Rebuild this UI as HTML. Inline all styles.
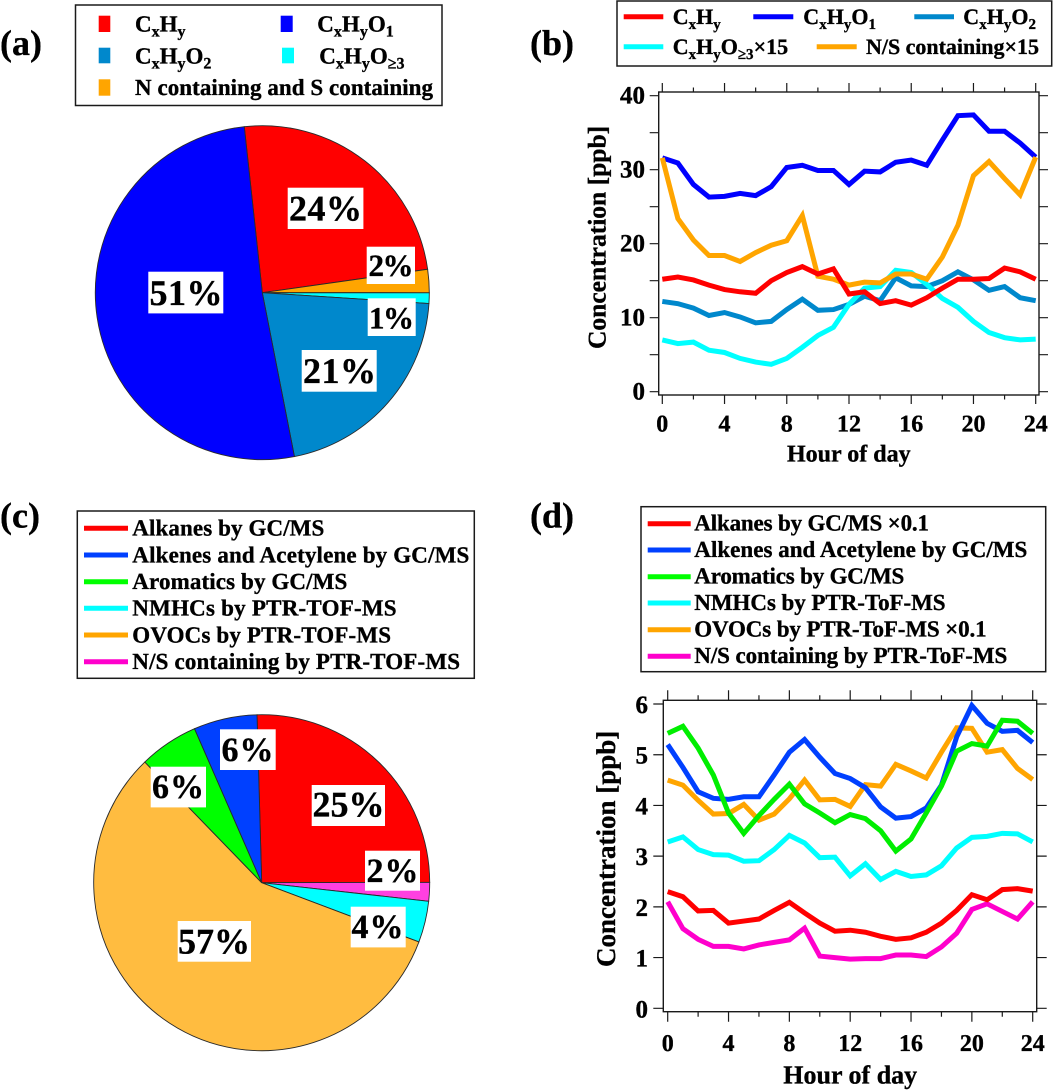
<!DOCTYPE html>
<html lang="en">
<head>
<meta charset="utf-8">
<title>VOC composition and diurnal profiles</title>
<style>
html,body{margin:0;padding:0;background:#fff;}
svg{display:block;filter:blur(0.35px);}
text{font-family:"Liberation Serif",serif;font-weight:bold;fill:#000;stroke:#000;stroke-width:0.35px;text-rendering:geometricPrecision;}
.leg{font-size:23px;}
.legb{font-size:22px;}
.sub{font-size:16px;}
.subb{font-size:15px;}
.panel{font-size:36px;}
.pct{font-size:36px;}
.pcts{font-size:34px;}
.box{fill:#fff;stroke:#1a1a1a;stroke-width:1.5;}
</style>
</head>
<body>
<svg id="fig" xmlns="http://www.w3.org/2000/svg" width="1061" height="1090" viewBox="0 0 1061 1090">
<rect width="1061" height="1090" fill="#fff"/>

<text class="panel" x="0" y="55">(a)</text>
<text class="panel" x="530" y="55">(b)</text>
<text class="panel" x="0" y="527.5">(c)</text>
<text class="panel" x="530" y="527.5">(d)</text>

<g id="pie-a"></g>
<g id="pie-c"></g>
<g id="chart-b"></g>
<g id="chart-d"></g>

<!-- Legend a -->
<g>
  <rect class="box" x="75.5" y="5" width="366.5" height="100.5"/>
  <rect x="98.7" y="15.7" width="11.6" height="16.3" fill="#ff0000"/>
  <text class="leg" x="135" y="31.7">C<tspan class="sub" dy="5">x</tspan><tspan dy="-5">H</tspan><tspan class="sub" dy="5">y</tspan></text>
  <rect x="280.7" y="15.7" width="12" height="16.3" fill="#0000ff"/>
  <text class="leg" x="317.3" y="31.7">C<tspan class="sub" dy="5">x</tspan><tspan dy="-5">H</tspan><tspan class="sub" dy="5">y</tspan><tspan dy="-5">O</tspan><tspan class="sub" dy="5">1</tspan></text>
  <rect x="98.7" y="47.7" width="11.6" height="15.6" fill="#0088cc"/>
  <text class="leg" x="135" y="63.3">C<tspan class="sub" dy="5">x</tspan><tspan dy="-5">H</tspan><tspan class="sub" dy="5">y</tspan><tspan dy="-5">O</tspan><tspan class="sub" dy="5">2</tspan></text>
  <rect x="282" y="47.7" width="12" height="15.6" fill="#00ffff"/>
  <text class="leg" x="319.3" y="63.3">C<tspan class="sub" dy="5">x</tspan><tspan dy="-5">H</tspan><tspan class="sub" dy="5">y</tspan><tspan dy="-5">O</tspan><tspan class="sub" dy="5">≥3</tspan></text>
  <rect x="98.7" y="79.3" width="11.6" height="16.4" fill="#ffa500"/>
  <text class="leg" x="135" y="95" textLength="298">N containing and S containing</text>
</g>

<!-- Legend b -->
<g>
  <rect class="box" x="617" y="1" width="434.7" height="65"/>
  <line x1="623.7" x2="663.3" y1="16.7" y2="16.7" stroke="#ff0000" stroke-width="5"/>
  <text class="legb" x="672.7" y="24">C<tspan class="subb" dy="5">x</tspan><tspan dy="-5">H</tspan><tspan class="subb" dy="5">y</tspan></text>
  <line x1="753.3" x2="793.3" y1="16.7" y2="16.7" stroke="#0000ff" stroke-width="5"/>
  <text class="legb" x="803.3" y="24">C<tspan class="subb" dy="5">x</tspan><tspan dy="-5">H</tspan><tspan class="subb" dy="5">y</tspan><tspan dy="-5">O</tspan><tspan class="subb" dy="5">1</tspan></text>
  <line x1="914.3" x2="954" y1="16.7" y2="16.7" stroke="#0088cc" stroke-width="5"/>
  <text class="legb" x="963.3" y="24">C<tspan class="subb" dy="5">x</tspan><tspan dy="-5">H</tspan><tspan class="subb" dy="5">y</tspan><tspan dy="-5">O</tspan><tspan class="subb" dy="5">2</tspan></text>
  <line x1="623.7" x2="663.3" y1="46.7" y2="46.7" stroke="#00ffff" stroke-width="5"/>
  <text class="legb" x="672.7" y="54">C<tspan class="subb" dy="5">x</tspan><tspan dy="-5">H</tspan><tspan class="subb" dy="5">y</tspan><tspan dy="-5">O</tspan><tspan class="subb" dy="5">≥3</tspan><tspan dy="-5">×15</tspan></text>
  <line x1="816.7" x2="856.7" y1="46.7" y2="46.7" stroke="#ffa500" stroke-width="5"/>
  <text class="legb" x="866" y="54" textLength="173">N/S containing×15</text>
</g>

<!-- Legend c -->
<g>
  <rect class="box" x="77.3" y="511" width="397" height="167.3"/>
  <line x1="84" x2="128" y1="528.3" y2="528.3" stroke="#ff0000" stroke-width="5"/>
  <text class="leg" x="132.3" y="535.7" textLength="192">Alkanes by GC/MS</text>
  <line x1="84" x2="128" y1="555" y2="555" stroke="#0040ff" stroke-width="5"/>
  <text class="leg" x="132.3" y="562.3" textLength="337">Alkenes and Acetylene by GC/MS</text>
  <line x1="84" x2="128" y1="581.7" y2="581.7" stroke="#00ff00" stroke-width="5"/>
  <text class="leg" x="132.3" y="589" textLength="215">Aromatics by GC/MS</text>
  <line x1="84" x2="128" y1="608.3" y2="608.3" stroke="#00ffff" stroke-width="5"/>
  <text class="leg" x="132.3" y="615.7" textLength="264.3">NMHCs by PTR-TOF-MS</text>
  <line x1="84" x2="128" y1="635" y2="635" stroke="#ffa500" stroke-width="5"/>
  <text class="leg" x="132.3" y="642.3" textLength="258.7">OVOCs by PTR-TOF-MS</text>
  <line x1="84" x2="128" y1="661.7" y2="661.7" stroke="#ff00cc" stroke-width="5"/>
  <text class="leg" x="132.3" y="669" textLength="327.7">N/S containing by PTR-TOF-MS</text>
</g>

<!-- Legend d -->
<g>
  <rect class="box" x="641" y="506.7" width="404.7" height="165"/>
  <line x1="647.7" x2="690.7" y1="523.7" y2="523.7" stroke="#ff0000" stroke-width="5"/>
  <text class="leg" x="694.3" y="530.7" textLength="234.7">Alkanes by GC/MS ×0.1</text>
  <line x1="647.7" x2="690.7" y1="550" y2="550" stroke="#0040ff" stroke-width="5"/>
  <text class="leg" x="694.3" y="557.2" textLength="333">Alkenes and Acetylene by GC/MS</text>
  <line x1="647.7" x2="690.7" y1="576.7" y2="576.7" stroke="#00ff00" stroke-width="5"/>
  <text class="leg" x="694.3" y="583.7" textLength="210">Aromatics by GC/MS</text>
  <line x1="647.7" x2="690.7" y1="603" y2="603" stroke="#00ffff" stroke-width="5"/>
  <text class="leg" x="694.3" y="610.2" textLength="251.3">NMHCs by PTR-ToF-MS</text>
  <line x1="647.7" x2="690.7" y1="629.7" y2="629.7" stroke="#ffa500" stroke-width="5"/>
  <text class="leg" x="694.3" y="636.7" textLength="292.3">OVOCs by PTR-ToF-MS ×0.1</text>
  <line x1="647.7" x2="690.7" y1="656.3" y2="656.3" stroke="#ff00cc" stroke-width="5"/>
  <text class="leg" x="694.3" y="663.2" textLength="313">N/S containing by PTR-ToF-MS</text>
</g>

<!-- Axis titles -->
<text x="787" y="461.7" font-size="24">Hour of day</text>
<text transform="translate(605.5,349) rotate(-90)" font-size="25.5">Concentration [ppb]</text>
<text x="783.3" y="1083.3" font-size="26">Hour of day</text>
<text transform="translate(615,967) rotate(-90)" font-size="27">Concentration [ppb]</text>

<!-- Pie percent labels, drawn above the slices -->
<g>
  <rect x="287.7" y="187.7" width="75.7" height="41.3" fill="#fff"/>
  <text class="pct" x="289" y="220.5" textLength="73">24%</text>
  <rect x="366.7" y="246.7" width="48.3" height="37.3" fill="#fff"/>
  <text x="368.5" y="276" font-size="31" textLength="45">2%</text>
  <rect x="367.7" y="298.3" width="48" height="37.7" fill="#fff"/>
  <text x="369" y="328.3" font-size="31" textLength="45">1%</text>
  <rect x="301.7" y="350" width="75" height="41.7" fill="#fff"/>
  <text class="pct" x="303" y="383" textLength="73">21%</text>
  <rect x="148.3" y="271.7" width="75" height="41.7" fill="#fff"/>
  <text class="pct" x="149.5" y="305" textLength="73">51%</text>
</g>
<g>
  <rect x="311.7" y="785" width="73.3" height="41" fill="#fff"/>
  <text class="pct" x="312.5" y="816.7" textLength="72">25%</text>
  <rect x="365" y="850.7" width="55" height="40" fill="#fff"/>
  <text class="pcts" x="366.5" y="882" textLength="52">2%</text>
  <rect x="350.7" y="906.7" width="55" height="40.7" fill="#fff"/>
  <text class="pcts" x="351.5" y="938" textLength="52">4%</text>
  <rect x="177.7" y="921" width="73.3" height="40.7" fill="#fff"/>
  <text class="pct" x="178" y="953.3" textLength="72">57%</text>
  <rect x="150.7" y="766.7" width="55.3" height="40.7" fill="#fff"/>
  <text class="pcts" x="152" y="798" textLength="52">6%</text>
  <rect x="220" y="729.3" width="55.7" height="40.7" fill="#fff"/>
  <text class="pcts" x="221.5" y="761" textLength="52">6%</text>
</g>
</svg>

<script>
// ---- Panel (a) pie data (percent) ----
var pieANames = ['cxhy', 'nitrogen-sulfur', 'cxhyo3', 'cxhyo2', 'cxhyo1'];
var pieAValues = [24.5, 2.25, 1.03, 20.9, 51.4];
var pieAColors = ['#ff0000', '#ffa500', '#00ffff', '#0088cc', '#0000ff'];

// ---- Panel (c) pie data (percent) ----
var pieCNames = ['alkanes', 'nitrogen-sulfur', 'nmhcs', 'ovocs', 'aromatics', 'alkenes'];
var pieCValues = [25.4, 1.8, 3.97, 57, 5.7, 6.1];
var pieCColors = ['#ff0000', '#ff40e0', '#00ffff', '#ffbc40', '#00ff00', '#0040ff'];

// ---- Shared hour axis ----
var hours = [0,1,2,3,4,5,6,7,8,9,10,11,12,13,14,15,16,17,18,19,20,21,22,23,24];
var hourTicks = [0,2,4,6,8,10,12,14,16,18,20,22,24];
var hourTickLabels = [0,4,8,12,16,20,24];

// ---- Panel (b) series ----
var cxhyValues = [15.2,15.5,15.1,14.4,13.8,13.5,13.3,15,16.1,16.9,15.9,16.6,13.2,13.5,11.9,12.3,11.7,12.7,14,15.2,15.2,15.3,16.7,16.2,15.2];
var cxhyo1Values = [31.6,30.9,28,26.3,26.4,26.8,26.5,27.7,30.3,30.6,29.9,29.9,28,29.8,29.7,31,31.3,30.6,34,37.3,37.4,35.2,35.2,33.6,31.7];
var cxhyo2Values = [12.2,11.9,11.3,10.3,10.7,10.1,9.3,9.5,11.1,12.5,11,11.1,11.8,12.9,12.3,15.4,14.3,14.2,15,16.2,15.1,13.7,14.2,12.7,12.3];
var cxhyo3Values = [7,6.5,6.7,5.6,5.3,4.5,4,3.7,4.5,6,7.6,8.7,11.8,14,14.2,16.4,16.1,14.5,12.6,11.4,9.5,8,7.3,7,7.1];
var nsContainingValues = [31.6,23.4,20.5,18.4,18.4,17.6,18.8,19.8,20.4,23.8,15.6,15.2,14.4,14.8,14.7,15.9,15.9,15.2,18.2,22.5,29.2,31.1,28.8,26.6,31.7];
var chartBYTicks = [0,5,10,15,20,25,30,35,40];
var chartBYLabels = [0,10,20,30,40];

// ---- Panel (d) series ----
var alkanesValues = [2.3,2.2,1.92,1.93,1.68,1.72,1.76,1.93,2.09,1.88,1.68,1.52,1.54,1.5,1.42,1.36,1.39,1.5,1.68,1.93,2.24,2.14,2.34,2.36,2.31];
var alkenesValues = [5.2,4.75,4.27,4.14,4.12,4.17,4.17,4.6,5.05,5.3,4.95,4.63,4.53,4.35,3.97,3.75,3.78,3.95,4.4,5.35,5.97,5.62,5.46,5.48,5.24];
var aromaticsValues = [5.42,5.56,5.13,4.6,3.85,3.45,3.8,4.12,4.42,4.03,3.85,3.66,3.82,3.74,3.5,3.1,3.34,3.85,4.38,5.07,5.22,5.17,5.68,5.66,5.42];
var nmhcsValues = [3.28,3.38,3.13,3.03,3.02,2.9,2.91,3.13,3.41,3.26,2.97,2.98,2.61,2.85,2.54,2.7,2.6,2.63,2.81,3.16,3.37,3.39,3.45,3.44,3.28];
var ovocsValues = [4.5,4.4,4.1,3.83,3.84,4.02,3.71,3.83,4.13,4.5,4.11,4.12,3.98,4.41,4.38,4.81,4.68,4.54,5.05,5.53,5.52,5.05,5.1,4.73,4.51];
var nsPtrValues = [2.1,1.57,1.36,1.22,1.22,1.17,1.25,1.3,1.35,1.58,1.03,1,0.97,0.98,0.98,1.05,1.05,1.02,1.21,1.48,1.95,2.06,1.91,1.76,2.1];
var chartDYTicks = [0,1,2,3,4,5,6];
var chartDYLabels = [0,1,2,3,4,5,6];

var NS = 'http://www.w3.org/2000/svg';

function mk(tag, attrs, parent) {
  var el = document.createElementNS(NS, tag);
  for (var k in attrs) { el.setAttribute(k, attrs[k]); }
  parent.appendChild(el);
  return el;
}

function drawPie(parentId, prefix, names, values, colors, cx, cy, r, startDeg) {
  var parent = document.getElementById(parentId);
  var total = values.reduce(function (a, b) { return a + b; }, 0);
  var angle = startDeg;
  values.forEach(function (v, i) {
    var sweep = v / total * 360;
    var a0 = angle * Math.PI / 180;
    var a1 = (angle + sweep) * Math.PI / 180;
    var d = 'M' + cx + ' ' + cy +
      'L' + (cx + r * Math.sin(a0)) + ' ' + (cy - r * Math.cos(a0)) +
      'A' + r + ' ' + r + ' 0 ' + (sweep > 180 ? 1 : 0) + ' 1 ' +
      (cx + r * Math.sin(a1)) + ' ' + (cy - r * Math.cos(a1)) + 'Z';
    var p = mk('path', { d: d, fill: colors[i], stroke: '#2a2a2a', 'stroke-width': 0.9 }, parent);
    
    
    angle += sweep;
  });
}

function drawLineChart(cfg) {
  var g = document.getElementById(cfg.id);
  var xScale = function (h) { return cfg.x0 + (cfg.x24 - cfg.x0) * h / 24; };
  var yScale = function (v) { return cfg.yBottom + (cfg.yTop - cfg.yBottom) * (v - cfg.yMin) / (cfg.yMax - cfg.yMin); };

  var frame = mk('rect', { x: cfg.left, y: cfg.top, width: cfg.right - cfg.left, height: cfg.bottom - cfg.top, fill: '#fff', stroke: '#1a1a1a', 'stroke-width': 1.4 }, g);
  
  

  hourTicks.forEach(function (h) {
    var major = hourTickLabels.indexOf(h) >= 0;
    var len = major ? cfg.majorLen : cfg.minorLen;
    var x = xScale(h);
    var d = 'M' + x + ' ' + cfg.top + 'V' + (cfg.top - len) + 'M' + x + ' ' + cfg.bottom + 'V' + (cfg.bottom + len);
    var t = mk('path', { d: d, stroke: '#1a1a1a', 'stroke-width': 1.2, fill: 'none' }, g);
    
    
  });
  hourTickLabels.forEach(function (h) {
    var lab = mk('text', { x: xScale(h), y: cfg.xLabelY, 'text-anchor': 'middle', 'font-size': 24 }, g);
    lab.textContent = h;
    
    
  });
  cfg.yTicks.forEach(function (v) {
    var y = yScale(v);
    var d = 'M' + cfg.left + ' ' + y + 'H' + (cfg.left - cfg.yTickLen) + 'M' + cfg.right + ' ' + y + 'H' + (cfg.right + cfg.yTickLen);
    var t = mk('path', { d: d, stroke: '#1a1a1a', 'stroke-width': 1.2, fill: 'none' }, g);
    
    
  });
  cfg.yLabels.forEach(function (v) {
    var lab = mk('text', { x: cfg.yLabelX, y: yScale(v) + cfg.yLabelShift, 'text-anchor': 'end', 'font-size': 25 }, g);
    lab.textContent = v;
    
    
  });
  cfg.series.forEach(function (s) {
    var pts = s.values.map(function (v, i) { return xScale(hours[i]).toFixed(2) + ',' + yScale(v).toFixed(2); }).join(' ');
    var line = mk('polyline', { points: pts, fill: 'none', stroke: s.color, 'stroke-width': 5, 'stroke-linejoin': 'miter', 'stroke-miterlimit': 4 }, g);
    
    
  });
}

drawPie('pie-a', 'pie-a', pieANames, pieAValues, pieAColors, 262.3, 292.7, 167, -6.2);
drawPie('pie-c', 'pie-c', pieCNames, pieCValues, pieCColors, 261.7, 882.7, 168, -1.6);

drawLineChart({
  id: 'chart-b', left: 658.7, right: 1039, top: 92, bottom: 395,
  x0: 662.3, x24: 1035.7, yBottom: 391.7, yTop: 95.7, yMin: 0, yMax: 40,
  majorLen: 9, minorLen: 4.5, yTickLen: 9, xLabelY: 431.7,
  yLabelX: 645, yLabelShift: 8,
  yTicks: chartBYTicks, yLabels: chartBYLabels,
  series: [
    { name: 'line-cxhyo1', color: '#0000ff', values: cxhyo1Values },
    { name: 'line-cxhyo2', color: '#0088cc', values: cxhyo2Values },
    { name: 'line-cxhyo3', color: '#00ffff', values: cxhyo3Values },
    { name: 'line-nitrogen-sulfur', color: '#ffa500', values: nsContainingValues },
    { name: 'line-cxhy', color: '#ff0000', values: cxhyValues }
  ]
});

drawLineChart({
  id: 'chart-d', left: 663.3, right: 1036.7, top: 700.3, bottom: 1011.7,
  x0: 667.7, x24: 1032.7, yBottom: 1008.3, yTop: 704, yMin: 0, yMax: 6,
  majorLen: 10, minorLen: 5, yTickLen: 10, xLabelY: 1051,
  yLabelX: 648, yLabelShift: 9,
  yTicks: chartDYTicks, yLabels: chartDYLabels,
  series: [
    { name: 'line-ovocs', color: '#ffa500', values: ovocsValues },
    { name: 'line-alkenes', color: '#0040ff', values: alkenesValues },
    { name: 'line-aromatics', color: '#00ee00', values: aromaticsValues },
    { name: 'line-nmhcs', color: '#00ffff', values: nmhcsValues },
    { name: 'line-nitrogen-sulfur-ptr', color: '#ff00cc', values: nsPtrValues },
    { name: 'line-alkanes', color: '#ff0000', values: alkanesValues }
  ]
});
</script>
</body>
</html>
